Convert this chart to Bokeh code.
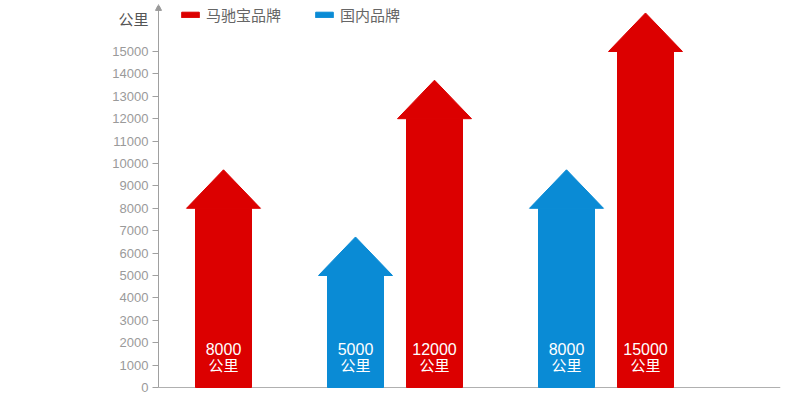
from bokeh.plotting import figure
from bokeh.models import (ColumnDataSource, Range1d, Label, Legend, LegendItem,
                          Arrow, NormalHead, FixedTicker)
from bokeh.core.properties import value
from bokeh.embed import file_html
from bokeh.resources import INLINE

# ---- data ----
groups = [0, 1, 2]
brand_mcb = [8000, 12000, 15000]          # 马驰宝品牌
brand_domestic = [None, 5000, 8000]       # 国内品牌 (no bar in first group)
y_ticks = list(range(0, 16000, 1000))
unit = "公里"
series_names = ["马驰宝品牌", "国内品牌"]

# ---- style ----
RED = "#dc0000"
BLUE = "#0a8bd5"
PX_PER_GROUP = 211.0
PX_PER_UNIT_Y = 22.4 / 1000
AXIS_X = -25.5 / PX_PER_GROUP           # data x of the y-axis (pixel 158)
FRAME_LEFT = 100
X_START = AXIS_X - (158 - FRAME_LEFT) / PX_PER_GROUP
FRAME_W = 780 - FRAME_LEFT
X_END = X_START + FRAME_W / PX_PER_GROUP
Y_START = -8 / PX_PER_UNIT_Y            # frame bottom at pixel 395, value 0 at 387
Y_END = (387 - 5) / PX_PER_UNIT_Y       # frame top at pixel 5
FRAME_H = 390
BAR_W = 56 / PX_PER_GROUP
OFFSET = 39.5 / PX_PER_GROUP
HEAD_HW = 37 / PX_PER_GROUP
HEAD_H = 1720

p = figure(width=790, height=395, output_backend="svg", toolbar_location=None,
           x_range=Range1d(X_START, X_END),
           y_range=Range1d(Y_START, Y_END),
           min_border_left=FRAME_LEFT, min_border_right=10, min_border_top=5, min_border_bottom=0)
p.outline_line_color = None
p.grid.visible = False
p.xaxis.visible = False
p.background_fill_color = "white"
p.border_fill_color = "white"

ax = p.yaxis[0]
ax.fixed_location = AXIS_X
ax.bounds = (0, Y_END)
ax.ticker = FixedTicker(ticks=y_ticks)
ax.axis_line_color = "#a0a0a0"
ax.major_tick_line_color = "#a0a0a0"
ax.major_tick_out = 6
ax.major_tick_in = 0
ax.minor_tick_out = 0
ax.minor_tick_in = 0
ax.major_label_standoff = 4
ax.major_label_text_font = "Liberation Sans"
ax.major_label_text_font_size = "13px"
ax.major_label_text_color = "#9a9a9a"

# x axis line
p.segment(x0=[AXIS_X], y0=[0], x1=[X_END], y1=[0], line_color="#b0b0b0", line_width=1)
# y axis arrow head
p.add_layout(Arrow(end=NormalHead(size=6, line_color="#999999", fill_color="#999999", line_width=1),
                   x_start=AXIS_X, y_start=Y_END - 600, x_end=AXIS_X, y_end=Y_END + 50,
                   line_color="#a0a0a0", line_width=1))

legend_items = []
for vals, off, color, name in [(brand_domestic, -OFFSET, BLUE, series_names[1]),
                               (brand_mcb, OFFSET, RED, series_names[0])]:
    xs, ys = [], []
    for g, v in zip(groups, vals):
        if v is None:
            continue
        xs.append(g + off)
        ys.append(v)
    src = ColumnDataSource(dict(
        x=xs, top=ys,
        px=[[x - HEAD_HW, x, x + HEAD_HW] for x in xs],
        py=[[v, v + HEAD_H, v] for v in ys],
        lab=[str(v) for v in ys],
        unit=[unit] * len(xs),
        y1=[1740] * len(xs), y2=[1030] * len(xs),
    ))
    r = p.vbar(x="x", top="top", bottom=0, width=BAR_W, color=color, source=src)
    p.patches("px", "py", color=color, source=src)
    p.text(x="x", y="y1", text="lab", text_align="center", text_baseline="middle",
           text_color="white", text_font=value("Liberation Sans"), text_font_size="16px", source=src)
    p.text(x="x", y="y2", text="unit", text_align="center", text_baseline="middle",
           text_color="white", text_font=value("Noto Sans CJK SC"), text_font_size="15px", source=src)
    legend_items.append((name, r))

legend = Legend(items=[LegendItem(label=legend_items[1][0], renderers=[legend_items[1][1]]),
                       LegendItem(label=legend_items[0][0], renderers=[legend_items[0][1]])],
                orientation="horizontal", location=(21 + 158 - FRAME_LEFT, 362 + 8),
                glyph_width=22, glyph_height=7, label_standoff=5, spacing=32,
                padding=0, margin=0, border_line_alpha=0, background_fill_alpha=0,
                label_text_font="Noto Sans CJK SC", label_text_font_size="15px",
                label_text_color="#666666")
p.add_layout(legend)

p.add_layout(Label(x=118 - FRAME_LEFT, y=FRAME_H - 13, x_units="screen", y_units="screen", text=unit,
                   text_align="left", text_baseline="middle", text_color="#555555",
                   text_font="Noto Sans CJK SC", text_font_size="15px"))

open("out.html", "w").write(file_html(p, INLINE))
